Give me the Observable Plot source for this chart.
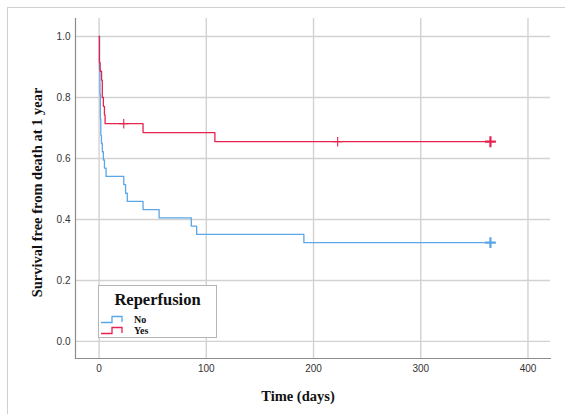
<!DOCTYPE html>
<html>
<head>
<meta charset="utf-8">
<script src="https://cdn.jsdelivr.net/npm/d3@7"></script>
<script src="https://cdn.jsdelivr.net/npm/@observablehq/plot@0.6"></script>
<style>
  html, body { margin: 0; padding: 0; background: #fff; }
  #wrap { position: relative; width: 565px; height: 414px; overflow: hidden; }
  #border { position: absolute; left: 7px; top: 7px; right: -10px; bottom: -10px;
            border-left: 1.5px solid #cfcfcf; border-top: 1.5px solid #cfcfcf; pointer-events: none; }
  #legend { position: absolute; left: 98px; top: 285px; width: 119px; height: 53px;
            background: #fff; border: 1px solid #b5b5b5; box-sizing: border-box;
            font-family: "Liberation Serif", serif; font-weight: bold; }
  #legend .title { position: absolute; left: 0; width: 100%; top: 4px; text-align: center; font-size: 16.5px; color: #111; }
  #legend .item { position: absolute; left: 35px; font-size: 10px; color: #111; }
  #legend svg { position: absolute; left: 1px; }
</style>
</head>
<body>
<div id="wrap">
  <div id="chart"></div>
  <div id="border"></div>
  <div id="legend"></div>
</div>
<script>
// Kaplan–Meier steps (time in days, survival proportion)
const yesTimes = [0, 0.3, 1, 2.3, 3, 4, 5, 5.6, 41, 108, 365];
const yesSurv  = [1.0, 0.914, 0.886, 0.857, 0.80, 0.771, 0.743, 0.714, 0.685, 0.655, 0.655];
const noTimes  = [0, 0.4, 0.8, 1.2, 1.6, 2.2, 3, 4, 5, 6.5, 23, 24.7, 26.3, 41, 56, 86, 91, 191, 365];
const noSurv   = [1.0, 0.892, 0.811, 0.73, 0.676, 0.649, 0.622, 0.595, 0.568, 0.541, 0.514, 0.486, 0.459, 0.432, 0.405, 0.378, 0.351, 0.324, 0.324];
// Censored observations
const yesCensorTimes = [23, 222.5];
const yesCensorSurv  = [0.714, 0.655];
const yesEndTime = [365], yesEndSurv = [0.655];
const noEndTime = [365], noEndSurv = [0.324];

const groups = ["No", "Yes"];
const colors = ["#5aa6e8", "#e6234f"];
const xTicks = [0, 100, 200, 300, 400];
const yTicks = [0.0, 0.2, 0.4, 0.6, 0.8, 1.0];
const xLabel = "Time (days)";
const yLabel = "Survival free from death at 1 year";
const legendTitle = "Reperfusion";

const rows = [
  ...noTimes.map((t, i) => ({time: t, surv: noSurv[i], group: "No"})),
  ...yesTimes.map((t, i) => ({time: t, surv: yesSurv[i], group: "Yes"}))
];
const cens = yesCensorTimes.map((t, i) => ({time: t, surv: yesCensorSurv[i], group: "Yes"}));
const ends = [
  ...noEndTime.map((t, i) => ({time: t, surv: noEndSurv[i], group: "No"})),
  ...yesEndTime.map((t, i) => ({time: t, surv: yesEndSurv[i], group: "Yes"}))
];

const tickFont = "Liberation Sans, Arial, sans-serif";
const chart = Plot.plot({
  width: 565, height: 414,
  marginLeft: 75, marginRight: 15, marginTop: 18, marginBottom: 56,
  x: {domain: [-22, 421]},
  y: {domain: [-0.056, 1.059]},
  color: {domain: groups, range: colors},
  style: {fontFamily: tickFont, background: "transparent"},
  marks: [
    Plot.gridX(xTicks, {stroke: "#d2d2d2", strokeOpacity: 1, strokeWidth: 1.4}),
    Plot.gridY(yTicks, {stroke: "#d2d2d2", strokeOpacity: 1, strokeWidth: 1.4}),
    Plot.frame({anchor: "left", stroke: "#8c8c8c", strokeWidth: 1.2}),
    Plot.frame({anchor: "bottom", stroke: "#8c8c8c", strokeWidth: 1.2}),
    Plot.axisX({ticks: xTicks, tickSize: 0, tickPadding: 6, fontSize: 10, fill: "#333", label: null}),
    Plot.axisY({ticks: yTicks, tickSize: 0, tickPadding: 5, fontSize: 10, fill: "#333", label: null, tickFormat: d3.format(".1f")}),
    Plot.line(rows, {x: "time", y: "surv", z: "group", stroke: "group", curve: "step-after", strokeWidth: 1.3}),
    Plot.dot(cens, {x: "time", y: "surv", stroke: "group", symbol: "plus", r: 3.2, strokeWidth: 1.1}),
    Plot.dot(ends, {x: "time", y: "surv", stroke: "group", symbol: "plus", r: 3.6, strokeWidth: 2.2}),
    Plot.text([xLabel], {frameAnchor: "bottom", dx: -15, dy: 42, fontSize: 14.5, fontWeight: "bold", fontFamily: "Liberation Serif, serif", fill: "#111"}),
    Plot.text([yLabel], {frameAnchor: "left", textAnchor: "middle", rotate: -90, dx: -38, dy: 4, fontSize: 14.5, fontWeight: "bold", fontFamily: "Liberation Serif, serif", fill: "#111"})
  ]
});
document.getElementById("chart").appendChild(chart);

// Legend built from the same group/color arrays
const leg = d3.select("#legend");
leg.append("div").attr("class", "title").text(legendTitle);
groups.forEach((g, i) => {
  const top = 30 + i * 11;
  const s = leg.append("svg").attr("width", 24).attr("height", 10).style("top", (top - 1) + "px");
  s.append("path")
    .attr("d", "M1,7.5 H12 V1.5 H22 V7")
    .attr("fill", "none").attr("stroke", colors[i]).attr("stroke-width", 1.3);
  leg.append("div").attr("class", "item").style("top", (top - 2) + "px").text(g);
});
</script>
</body>
</html>
